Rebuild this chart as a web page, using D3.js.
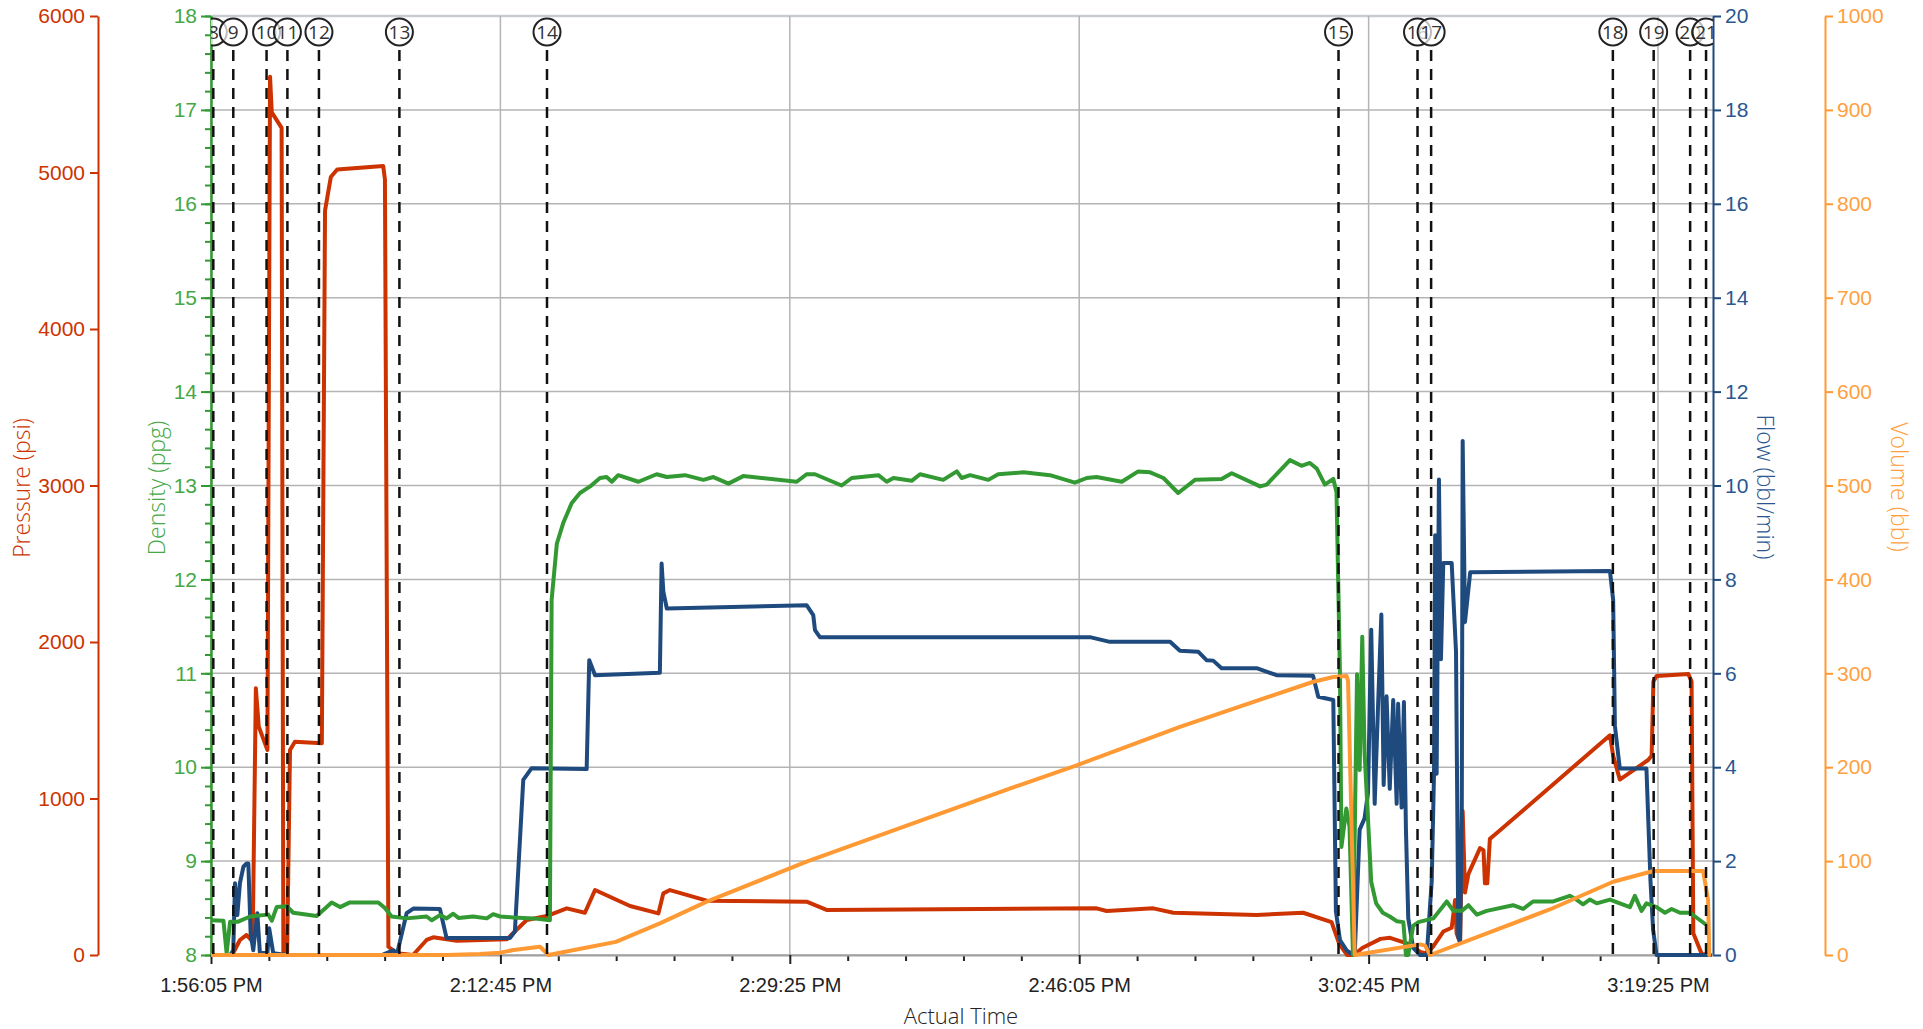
<!DOCTYPE html>
<html><head><meta charset="utf-8">
<script src="https://cdn.jsdelivr.net/npm/d3@7"></script>
<style>
html,body{margin:0;padding:0;background:#fff;}
svg{display:block;font-family:"Open Sans","Noto Sans",sans-serif;font-weight:300;}
</style></head><body>
<svg id="chart" width="1923" height="1029"></svg>
<script>
// ---------- DATA ----------
const START = "13:56:05";          // 1:56:05 PM, time axis origin
const END_OFFSET = 5190;           // seconds shown after START
const timeTickOffsets = [0, 1000, 2000, 3000, 4000, 5000];   // labelled ticks (s after START)
const pressureTicks = [0, 1000, 2000, 3000, 4000, 5000, 6000];
const densityTicks = [8, 9, 10, 11, 12, 13, 14, 15, 16, 17, 18];
const flowTicks = [0, 2, 4, 6, 8, 10, 12, 14, 16, 18, 20];
const volumeTicks = [0, 100, 200, 300, 400, 500, 600, 700, 800, 900, 1000];

const eventLabels = ["8","9","10","11","12","13","14","15","16","17","18","19","20","21"];
const eventTimes  = [8, 77, 192, 264, 373, 651, 1161, 3896, 4169, 4216, 4844, 4985, 5111, 5166];

// [seconds after START, value]
const pressure = [
 [0,0],[73,0],[100,96],[123,128],[144,85],[155,1704],[165,1459],[195,1310],[204,5612],[210,5384],
 [244,5285],[250,21],[263,10],[273,1310],[290,1363],[383,1353],[394,4756],[414,4971],[436,5019],
 [595,5042],[601,4955],[613,53],[642,11],[698,0],[745,96],[768,113],[849,91],[1022,100],[1091,224],
 [1160,249],[1229,298],[1292,270],[1327,415],[1448,313],[1546,266],[1563,394],[1586,415],[1713,347],
 [2058,341],[2127,288],[3060,298],[3095,281],[3256,298],[3325,270],[3613,256],[3774,270],[3872,210],
 [3899,68],[3926,0],[3949,0],[3978,45],[4041,103],[4074,110],[4143,68],[4178,20],[4201,8],[4224,56],
 [4258,150],[4287,174],[4299,351],[4304,139],[4316,79],[4325,920],[4333,399],[4345,518],[4385,683],
 [4397,670],[4402,458],[4410,458],[4419,742],[4442,778],[4834,1404],[4845,1274],[4868,1121],
 [4966,1246],[4978,1274],[4984,1748],[4995,1783],[5105,1795],[5116,1748],[5122,139],[5151,6],[5180,0]
];

const density = [
 [0,8.37],[43,8.365],[54,8.02],[66,8.355],[94,8.355],[135,8.41],[198,8.43],[210,8.365],[227,8.51],
 [262,8.52],[284,8.45],[365,8.415],[417,8.56],[446,8.51],[480,8.56],[578,8.56],[601,8.50],[624,8.41],
 [676,8.39],[745,8.41],[763,8.37],[791,8.425],[814,8.39],[837,8.44],[855,8.395],[906,8.41],[953,8.39],
 [975,8.435],[999,8.41],[1045,8.40],[1114,8.39],[1171,8.37],[1177,11.78],[1195,12.38],[1217,12.6],
 [1246,12.81],[1275,12.92],[1310,12.99],[1344,13.08],[1367,13.09],[1385,13.04],[1407,13.11],
 [1477,13.04],[1540,13.12],[1575,13.09],[1638,13.11],[1701,13.06],[1736,13.09],[1788,13.02],
 [1839,13.10],[2024,13.04],[2058,13.12],[2087,13.12],[2179,13.00],[2214,13.08],[2306,13.11],
 [2335,13.04],[2358,13.08],[2421,13.05],[2450,13.12],[2530,13.06],[2577,13.15],[2594,13.08],
 [2623,13.11],[2686,13.06],[2720,13.12],[2807,13.14],[2899,13.11],[2985,13.03],[3026,13.08],
 [3060,13.09],[3147,13.04],[3204,13.15],[3245,13.14],[3291,13.08],[3342,12.92],[3400,13.06],
 [3492,13.07],[3527,13.13],[3625,12.99],[3648,13.01],[3728,13.27],[3768,13.21],[3797,13.24],
 [3821,13.18],[3849,13.01],[3878,13.07],[3889,12.93],[3901,11.0],[3906,9.15],[3923,9.56],[3934,9.37],
 [3946,8.0],[3960,10.99],[3969,9.97],[3978,11.39],[3986,10.16],[4009,8.78],[4026,8.55],[4049,8.45],
 [4073,8.41],[4097,8.36],[4120,8.35],[4129,8.0],[4137,8.0],[4154,8.31],[4172,8.35],[4224,8.39],
 [4270,8.57],[4293,8.47],[4322,8.47],[4345,8.53],[4374,8.43],[4408,8.47],[4499,8.53],[4534,8.49],
 [4568,8.57],[4638,8.57],[4695,8.63],[4718,8.59],[4741,8.54],[4764,8.59],[4788,8.55],[4834,8.59],
 [4868,8.55],[4903,8.51],[4920,8.63],[4943,8.47],[4960,8.55],[4995,8.51],[5024,8.45],[5047,8.49],
 [5076,8.45],[5110,8.45],[5128,8.41],[5163,8.33]
];

const flow = [
 [0,0],[66,0],[77,0.1],[83,1.53],[91,0.85],[100,1.53],[112,1.88],[123,1.95],[129,1.95],[137,0.46],
 [146,0.1],[160,0.89],[169,0.04],[195,0.04],[201,0.57],[215,0.04],[262,0],[590,0],[630,0.1],[643,0.03],
 [676,0.89],[699,0.99],[791,0.98],[814,0.36],[1033,0.36],[1050,0.5],[1079,3.73],[1108,3.98],
 [1298,3.96],[1307,6.28],[1327,5.96],[1551,6.01],[1557,8.34],[1563,7.74],[1575,7.38],[2058,7.45],
 [2081,7.24],[2087,6.92],[2104,6.77],[3037,6.77],[3106,6.67],[3314,6.67],[3348,6.48],[3411,6.46],
 [3440,6.28],[3463,6.27],[3492,6.11],[3613,6.11],[3682,5.96],[3808,5.95],[3826,5.50],[3878,5.43],
 [3887,0.93],[3901,0.32],[3924,0.1],[3947,0],[3952,0],[3969,2.67],[3986,2.91],[3998,3.46],[4009,6.93],
 [4021,3.22],[4032,5.19],[4044,7.25],[4052,3.62],[4062,5.51],[4073,3.54],[4085,5.43],[4097,3.22],
 [4102,5.35],[4114,3.14],[4122,5.39],[4129,2.67],[4137,0.78],[4154,0.15],[4178,0],[4201,0],
 [4218,1.57],[4226,3.86],[4230,8.94],[4235,3.86],[4243,10.13],[4250,6.30],[4258,8.35],[4287,8.35],
 [4302,6.46],[4310,0.38],[4316,0.3],[4322,3.14],[4325,10.95],[4333,7.09],[4351,8.15],[4834,8.18],
 [4845,7.56],[4851,4.88],[4868,3.97],[4960,3.97],[4974,1.57],[4983,0.54],[4995,0],[5180,0]
];

const volume = [
 [0,0],[814,0],[930,1],[999,2.5],[1045,5.3],[1137,8.8],[1166,0],[1286,7.1],[1399,14],[1551,33.7],
 [1713,56.8],[2058,99.4],[2795,181],[2991,202],[3348,243],[3809,291],[3878,296],[3924,297],[3929,292],
 [3952,0],[4178,11.3],[4195,10],[4212,0],[4626,48.5],[4845,78],[4984,89.4],[5156,89.4],[5173,58.6],
 [5177,0]
];

// ---------- CHART ----------
const colors = {pressure:"#cc3300", density:"#339933", densityText:"#45a845",
                flow:"#1f4a7e", flowText:"#2b5690", volume:"#ff9933", volumeText:"#ff9f40"};
const L = 211, R = 1713, T = 16, B = 955;
const parse = d3.timeParse("%H:%M:%S");
const t0 = parse(START);
const toDate = s => new Date(t0.getTime() + s * 1000);

const x = d3.scaleTime().domain([toDate(0), toDate(END_OFFSET)]).range([L, R]);
const yP = d3.scaleLinear().domain([0, 6000]).range([B, T]);
const yD = d3.scaleLinear().domain([8, 18]).range([B, T]);
const yF = d3.scaleLinear().domain([0, 20]).range([B, T]);
const yV = d3.scaleLinear().domain([0, 1000]).range([B, T]);
const plain = d3.format("d");

const svg = d3.select("#chart");
svg.append("defs").append("clipPath").attr("id", "plotclip")
  .append("rect").attr("x", L).attr("y", 0).attr("width", R - L).attr("height", B + 2);

// grid
const grid = svg.append("g");
grid.selectAll("line.h").data(densityTicks).join("line")
  .attr("x1", L).attr("x2", R).attr("y1", d => yD(d)).attr("y2", d => yD(d))
  .attr("stroke", d => d === 18 ? "#c8ccd0" : "#b4b4b4").attr("stroke-width", d => d === 18 ? 2.5 : 1.5);
grid.selectAll("line.v").data(timeTickOffsets).join("line")
  .attr("x1", d => x(toDate(d))).attr("x2", d => x(toDate(d))).attr("y1", T).attr("y2", B)
  .attr("stroke", "#b4b4b4").attr("stroke-width", 1.5);

// axes helper
function styleAxis(g, color, textColor) {
  g.select(".domain").attr("stroke", color).attr("stroke-width", 2);
  g.selectAll(".tick line").attr("stroke", color).attr("stroke-width", 2);
  g.selectAll(".tick text").attr("fill", textColor || color).attr("font-size", 21);
}

// Pressure axis
const gP = svg.append("g").attr("transform", "translate(98,0)")
  .call(d3.axisLeft(yP).tickValues(pressureTicks).tickFormat(plain).tickSize(8).tickSizeOuter(0).tickPadding(5));
styleAxis(gP, colors.pressure);

// Density axis (minor + major)
const densityMinor = d3.range(8, 18.001, 0.2).map(v => +v.toFixed(1));
const gDm = svg.append("g").attr("transform", `translate(${L},0)`)
  .call(d3.axisLeft(yD).tickValues(densityMinor).tickSize(6).tickSizeOuter(0).tickFormat(""));
styleAxis(gDm, colors.density);
const gD = svg.append("g").attr("transform", `translate(${L},0)`)
  .call(d3.axisLeft(yD).tickValues(densityTicks).tickFormat(plain).tickSize(10).tickSizeOuter(0).tickPadding(4));
styleAxis(gD, colors.density, colors.densityText);

// Flow axis
const gF = svg.append("g").attr("transform", `translate(${R},0)`)
  .call(d3.axisRight(yF).tickValues(flowTicks).tickFormat(plain).tickSize(8).tickSizeOuter(0).tickPadding(4));
styleAxis(gF, colors.flow, colors.flowText);

// Volume axis
const gV = svg.append("g").attr("transform", "translate(1825,0)")
  .call(d3.axisRight(yV).tickValues(volumeTicks).tickFormat(plain).tickSize(8).tickSizeOuter(0).tickPadding(4));
styleAxis(gV, colors.volume, colors.volumeText);

// X axis
const minorT = d3.range(0, END_OFFSET + 1, 200).filter(d => d % 1000 !== 0);
const gXm = svg.append("g").attr("transform", `translate(0,${B})`)
  .call(d3.axisBottom(x).tickValues(minorT.map(toDate)).tickSize(6).tickSizeOuter(0).tickFormat(""));
gXm.select(".domain").remove();
gXm.selectAll(".tick line").attr("stroke", "#222").attr("stroke-width", 2);
const gX = svg.append("g").attr("transform", `translate(0,${B})`)
  .call(d3.axisBottom(x).tickValues(timeTickOffsets.map(toDate)).tickSize(9).tickSizeOuter(0)
        .tickPadding(14).tickFormat(d3.timeFormat("%-I:%M:%S %p")));
gX.select(".domain").attr("stroke", "#a0a0a0").attr("stroke-width", 2);
gX.selectAll(".tick line").attr("stroke", "#222").attr("stroke-width", 2);
gX.selectAll(".tick text").attr("fill", "#222").attr("font-size", 20);

// axis titles
function title(txt, tx, ty, rot, color) {
  svg.append("text").attr("transform", `translate(${tx},${ty}) rotate(${rot})`)
    .attr("text-anchor", "middle").attr("dominant-baseline", "central")
    .attr("font-size", 23).attr("fill", color).text(txt);
}
title("Pressure (psi)", 21, 488, -90, colors.pressure);
title("Density (ppg)", 156, 488, -90, colors.densityText);
title("Flow (bbl/min)", 1766, 487, 90, colors.flowText);
title("Volume (bbl)", 1900, 487, 90, colors.volumeText);
svg.append("text").attr("x", 961).attr("y", 1024).attr("text-anchor", "middle")
  .attr("font-size", 22).attr("fill", "#222").text("Actual Time");

// series
const plot = svg.append("g").attr("clip-path", "url(#plotclip)");
function drawLine(data, yScale, color) {
  plot.append("path").datum(data)
    .attr("fill", "none").attr("stroke", color).attr("stroke-width", 4)
    .attr("stroke-linejoin", "round").attr("stroke-linecap", "round")
    .attr("d", d3.line().x(d => x(toDate(d[0]))).y(d => yScale(d[1])));
}
drawLine(pressure, yP, colors.pressure);
drawLine(flow, yF, colors.flow);
drawLine(density, yD, colors.density);
drawLine(volume, yV, colors.volume);

// event markers
const ev = plot.append("g");
const evData = eventLabels.map((l, i) => ({label: l, t: eventTimes[i]}));
ev.selectAll("line").data(evData).join("line")
  .attr("x1", d => x(toDate(d.t))).attr("x2", d => x(toDate(d.t)))
  .attr("y1", 50).attr("y2", B)
  .attr("stroke", "#111").attr("stroke-width", 2.5).attr("stroke-dasharray", "11,8");
const evg = ev.selectAll("g.m").data(evData).join("g")
  .attr("transform", d => `translate(${x(toDate(d.t))},32)`);
evg.append("circle").attr("r", 13.5).attr("fill", "#fff").attr("fill-opacity", 0.7)
  .attr("stroke", "#222").attr("stroke-width", 2);
evg.append("text").attr("text-anchor", "middle").attr("dominant-baseline", "central")
  .attr("font-size", 19).attr("font-weight", 400).attr("fill", "#333").text(d => d.label);
</script>
</body></html>
